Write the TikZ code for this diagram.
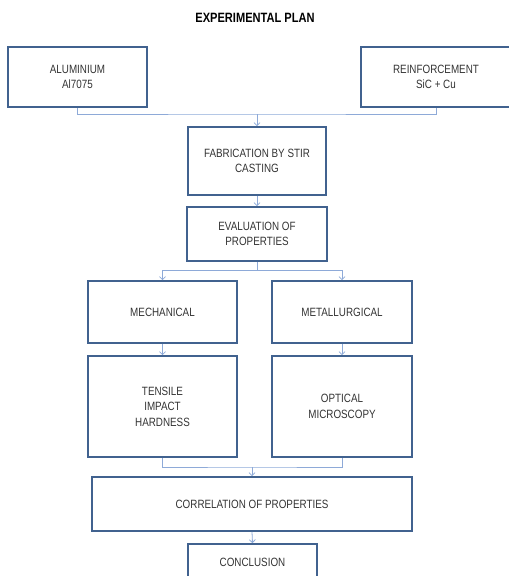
\documentclass[tikz,border=0pt]{standalone}
\usepackage{fontspec}
\setmainfont[FakeStretch=0.82]{Liberation Sans}
\usepackage{tikz}
\usetikzlibrary{arrows.meta}

\definecolor{boxline}{HTML}{41628F}
\definecolor{linkline}{HTML}{8EAAD8}
\definecolor{plantext}{HTML}{333333}

\tikzset{
  planbox/.style={draw=boxline,line width=1.6pt,rectangle,align=center,
    text=plantext,font=\fontsize{12}{15.5}\selectfont,inner sep=2pt},
  link/.style={draw=linkline,line width=0.8pt},
  linkarrow/.style={link,-{Straight Barb[length=3pt,width=6pt]}}
}

\begin{document}
\begin{tikzpicture}[x=1pt,y=-1pt]
  \useasboundingbox (0,0) rectangle (509,576);
  \node[font=\bfseries\fontsize{13.5}{15}\selectfont,text=black](title) at (255,18){EXPERIMENTAL PLAN};

  \node[planbox,minimum width=139pt,minimum height=60pt](al) at (77.5,77){ALUMINIUM\\Al7075};
  \node[planbox,minimum width=150pt,minimum height=60pt](reinf) at (436,77){REINFORCEMENT\\SiC + Cu};
  \node[planbox,minimum width=138pt,minimum height=68pt](fab) at (257,161){FABRICATION BY STIR\\CASTING};
  \node[planbox,minimum width=140pt,minimum height=54pt](eval) at (257,234){EVALUATION OF\\PROPERTIES};
  \node[planbox,minimum width=149pt,minimum height=62pt](mech) at (162.5,312){MECHANICAL};
  \node[planbox,minimum width=140pt,minimum height=62pt](metal) at (342,312){METALLURGICAL};
  \node[planbox,minimum width=149pt,minimum height=101pt](tens) at (162.5,406.5){TENSILE\\IMPACT\\HARDNESS};
  \node[planbox,minimum width=140pt,minimum height=101pt](opt) at (342,406.5){OPTICAL\\MICROSCOPY};
  \node[planbox,minimum width=320pt,minimum height=54pt](corr) at (252,504){CORRELATION OF PROPERTIES};
  \node[planbox,minimum width=129pt,minimum height=36pt](concl) at (252.5,562){CONCLUSION};

  % joins
  \coordinate (j1) at (257,114);
  \coordinate (j2) at (257,270);
  \coordinate (j3) at (252,467);

  \draw[link] (al.south) |- (j1) -| (reinf.south);
  \draw[linkarrow] (j1) -- (fab.north);
  \draw[linkarrow] (fab.south) -- (eval.north);
  \draw[link] (eval.south) -- (j2);
  \draw[linkarrow] (j2) -| (mech.north);
  \draw[linkarrow] (j2) -| (metal.north);
  \draw[linkarrow] (mech.south) -- (tens.north);
  \draw[linkarrow] (metal.south) -- (opt.north);
  \draw[link] (tens.south) |- (j3) -| (opt.south);
  \draw[linkarrow] (j3) -- (corr.north);
  \draw[linkarrow] (corr.south) -- (concl.north);
\end{tikzpicture}
\end{document}
